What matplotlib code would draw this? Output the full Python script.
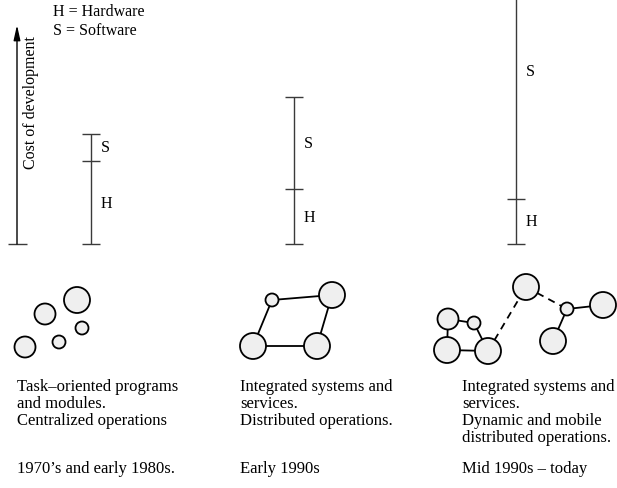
import matplotlib.pyplot as plt
from matplotlib.patches import Circle

# cost of development per era (arbitrary units, stacked H then S)
eras = ["1970\u2019s and early 1980s.", "Early 1990s", "Mid 1990s \u2013 today"]
hardware_cost = [83, 55, 45]
software_cost = [27, 92, 255]
descriptions = [
    ["Task\u2013oriented programs", "and modules.", "Centralized operations"],
    ["Integrated systems and", "services.", "Distributed operations."],
    ["Integrated systems and", "services.", "Dynamic and mobile", "distributed operations."],
]

# network sketches: nodes (x, y, r) and edges (i, j, dashed)
nodes = [
    [(77, 301, 13), (45, 315, 10.5), (82, 329, 6.5), (59, 343, 6.5), (25, 348, 10.5)],
    [(272, 301, 6.5), (332, 296, 13), (253, 347, 13), (317, 347, 13)],
    [(448, 320, 10.5), (474, 324, 6.5), (447, 351, 13), (488, 352, 13),
     (526, 288, 13), (567, 310, 6.5), (603, 306, 13), (553, 342, 13)],
]
edges = [
    [],
    [(0, 1, False), (0, 2, False), (2, 3, False), (3, 1, False)],
    [(0, 1, False), (0, 2, False), (2, 3, False), (1, 3, False),
     (3, 4, True), (4, 5, True), (5, 6, False), (5, 7, False)],
]

bar_x = [91, 294, 516]
text_x = [17, 240, 462]
base_y = 245
serif = "Liberation Serif"
line_col = "#3a3a3a"

fig = plt.figure(figsize=(6.17, 4.89), dpi=100)
ax = fig.add_axes([0, 0, 1, 1])
ax.set_xlim(0, 617)
ax.set_ylim(489, 0)
ax.axis("off")

# cost axis arrow
ax.annotate("", xy=(17, 26), xytext=(17, base_y),
            arrowprops=dict(arrowstyle="-|>,head_length=0.9,head_width=0.2",
                            color="black", lw=1.0, shrinkA=0, shrinkB=0))
ax.hlines(base_y, 8, 27, color=line_col, lw=1.0)
ax.text(31, 103, "Cost of development", rotation=90, ha="center", va="center",
        fontsize=11.5, family=serif)
ax.text(53, 12, "H = Hardware", ha="left", va="center", fontsize=11.5, family=serif)
ax.text(53, 31, "S = Software", ha="left", va="center", fontsize=11.5, family=serif)

for i, x in enumerate(bar_x):
    h_top = base_y - hardware_cost[i]
    s_top = h_top - software_cost[i]
    ax.vlines(x, s_top, base_y, color=line_col, lw=1.0)
    ax.hlines([base_y, h_top, s_top], x - 9, x + 9, color=line_col, lw=1.0)
    ax.text(x + 10, (base_y + h_top) / 2, "H", ha="left", va="center",
            fontsize=11.5, family=serif)
    ax.text(x + 10, (h_top + s_top) / 2, "S", ha="left", va="center",
            fontsize=11.5, family=serif)

# networks
for k in range(3):
    for a, b, dashed in edges[k]:
        xa, ya, _ = nodes[k][a]
        xb, yb, _ = nodes[k][b]
        ax.plot([xa, xb], [ya, yb], color="black", lw=1.3,
                ls=(0, (4, 3)) if dashed else "-", zorder=1)
    for cx, cy, r in nodes[k]:
        ax.add_patch(Circle((cx, cy), r, facecolor="#efefef", edgecolor="black",
                            lw=1.3, zorder=2))

# descriptions
for k in range(3):
    for j, line in enumerate(descriptions[k]):
        ax.text(text_x[k], 387 + 17 * j, line, ha="left", va="center",
                fontsize=12, family=serif)
    ax.text(text_x[k], 469, eras[k], ha="left", va="center", fontsize=12, family=serif)

fig.savefig("out.png", dpi=100)
